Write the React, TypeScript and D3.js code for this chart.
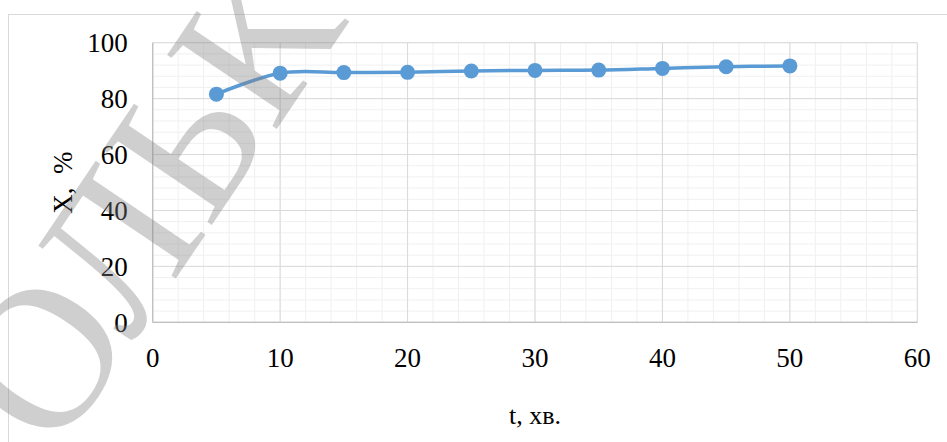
import React from "react";
import * as d3 from "d3";

// Conversion X (%) over time t (min)
const times = [5, 10, 15, 20, 25, 30, 35, 40, 45, 50];
const conversion = [81.6, 89.1, 89.3, 89.4, 89.9, 90.1, 90.2, 90.8, 91.4, 91.7];

const xTicks = [0, 10, 20, 30, 40, 50, 60];
const yTicks = [0, 20, 40, 60, 80, 100];
const xMinor = d3.range(0, 61, 2);
const yMinor = d3.range(0, 101, 4);

const xTitle = "t, хв.";
const yTitle = "X,\u00a0 %";
const stamp = "ОЛЬК";

const W = 947;
const H = 442;
const plot = { left: 152.7, right: 917.3, top: 42.7, bottom: 322.3 };
const font = "'Liberation Serif', 'Times New Roman', serif";

export default function App() {
  const x = d3.scaleLinear().domain([0, 60]).range([plot.left, plot.right]);
  const y = d3.scaleLinear().domain([0, 100]).range([plot.bottom, plot.top]);

  const pts = times.map((t, i) => [x(t), y(conversion[i])] as [number, number]);
  const line = d3.line().curve(d3.curveCatmullRom.alpha(0))(pts) ?? "";

  return (
    <svg
      width={W}
      height={H}
      style={{ position: "absolute", left: 0, top: 0, background: "#fff" }}
    >
      {/* chart frame */}
      <rect x={8.5} y={14.5} width={W + 20} height={H + 20} fill="#fff" stroke="#d9d9d9" strokeWidth={1} />

      {/* minor grid */}
      {xMinor.map((v) => (
        <line key={"xm" + v} x1={x(v)} x2={x(v)} y1={plot.top} y2={plot.bottom} stroke="#f0f0f0" strokeWidth={1} />
      ))}
      {yMinor.map((v) => (
        <line key={"ym" + v} x1={plot.left} x2={plot.right} y1={y(v)} y2={y(v)} stroke="#f0f0f0" strokeWidth={1} />
      ))}
      {/* major grid */}
      {xTicks.map((v) => (
        <line key={"xg" + v} x1={x(v)} x2={x(v)} y1={plot.top} y2={plot.bottom} stroke="#d9d9d9" strokeWidth={1} />
      ))}
      {yTicks.map((v) => (
        <line key={"yg" + v} x1={plot.left} x2={plot.right} y1={y(v)} y2={y(v)} stroke="#d9d9d9" strokeWidth={1} />
      ))}
      {/* axis lines */}
      <line x1={plot.left} x2={plot.right} y1={y(0)} y2={y(0)} stroke="#bfbfbf" strokeWidth={1.3} />
      <line x1={x(0)} x2={x(0)} y1={plot.top} y2={plot.bottom} stroke="#bfbfbf" strokeWidth={1.3} />

      {/* tick labels */}
      {yTicks.map((v) => (
        <text key={"yl" + v} x={plot.left - 25} y={y(v)} dy="0.35em" textAnchor="end" fontFamily={font} fontSize={27} fill="#000">
          {v}
        </text>
      ))}
      {xTicks.map((v) => (
        <text key={"xl" + v} x={x(v)} y={367} textAnchor="middle" fontFamily={font} fontSize={27} fill="#000">
          {v}
        </text>
      ))}

      {/* axis titles */}
      <text x={(plot.left + plot.right) / 2} y={424} textAnchor="middle" fontFamily={font} fontSize={26} fill="#000">
        {xTitle}
      </text>
      <text
        transform={`translate(72, ${(plot.top + plot.bottom) / 2}) rotate(-90)`}
        textAnchor="middle"
        fontFamily={font}
        fontSize={27}
        fill="#000"
      >
        {yTitle}
      </text>

      {/* series */}
      <path d={line} fill="none" stroke="#5b9bd5" strokeWidth={3.5} strokeLinejoin="round" />
      {pts.map(([px, py], i) => (
        <circle key={"p" + i} cx={px} cy={py} r={7.5} fill="#5b9bd5" />
      ))}

      {/* diagonal stamp */}
      <text
        transform="translate(56, 456) rotate(-56)"
        fontFamily={font}
        fontSize={202}
        fill="#808080"
        fillOpacity={0.38}
      >
        {stamp}
      </text>
    </svg>
  );
}
